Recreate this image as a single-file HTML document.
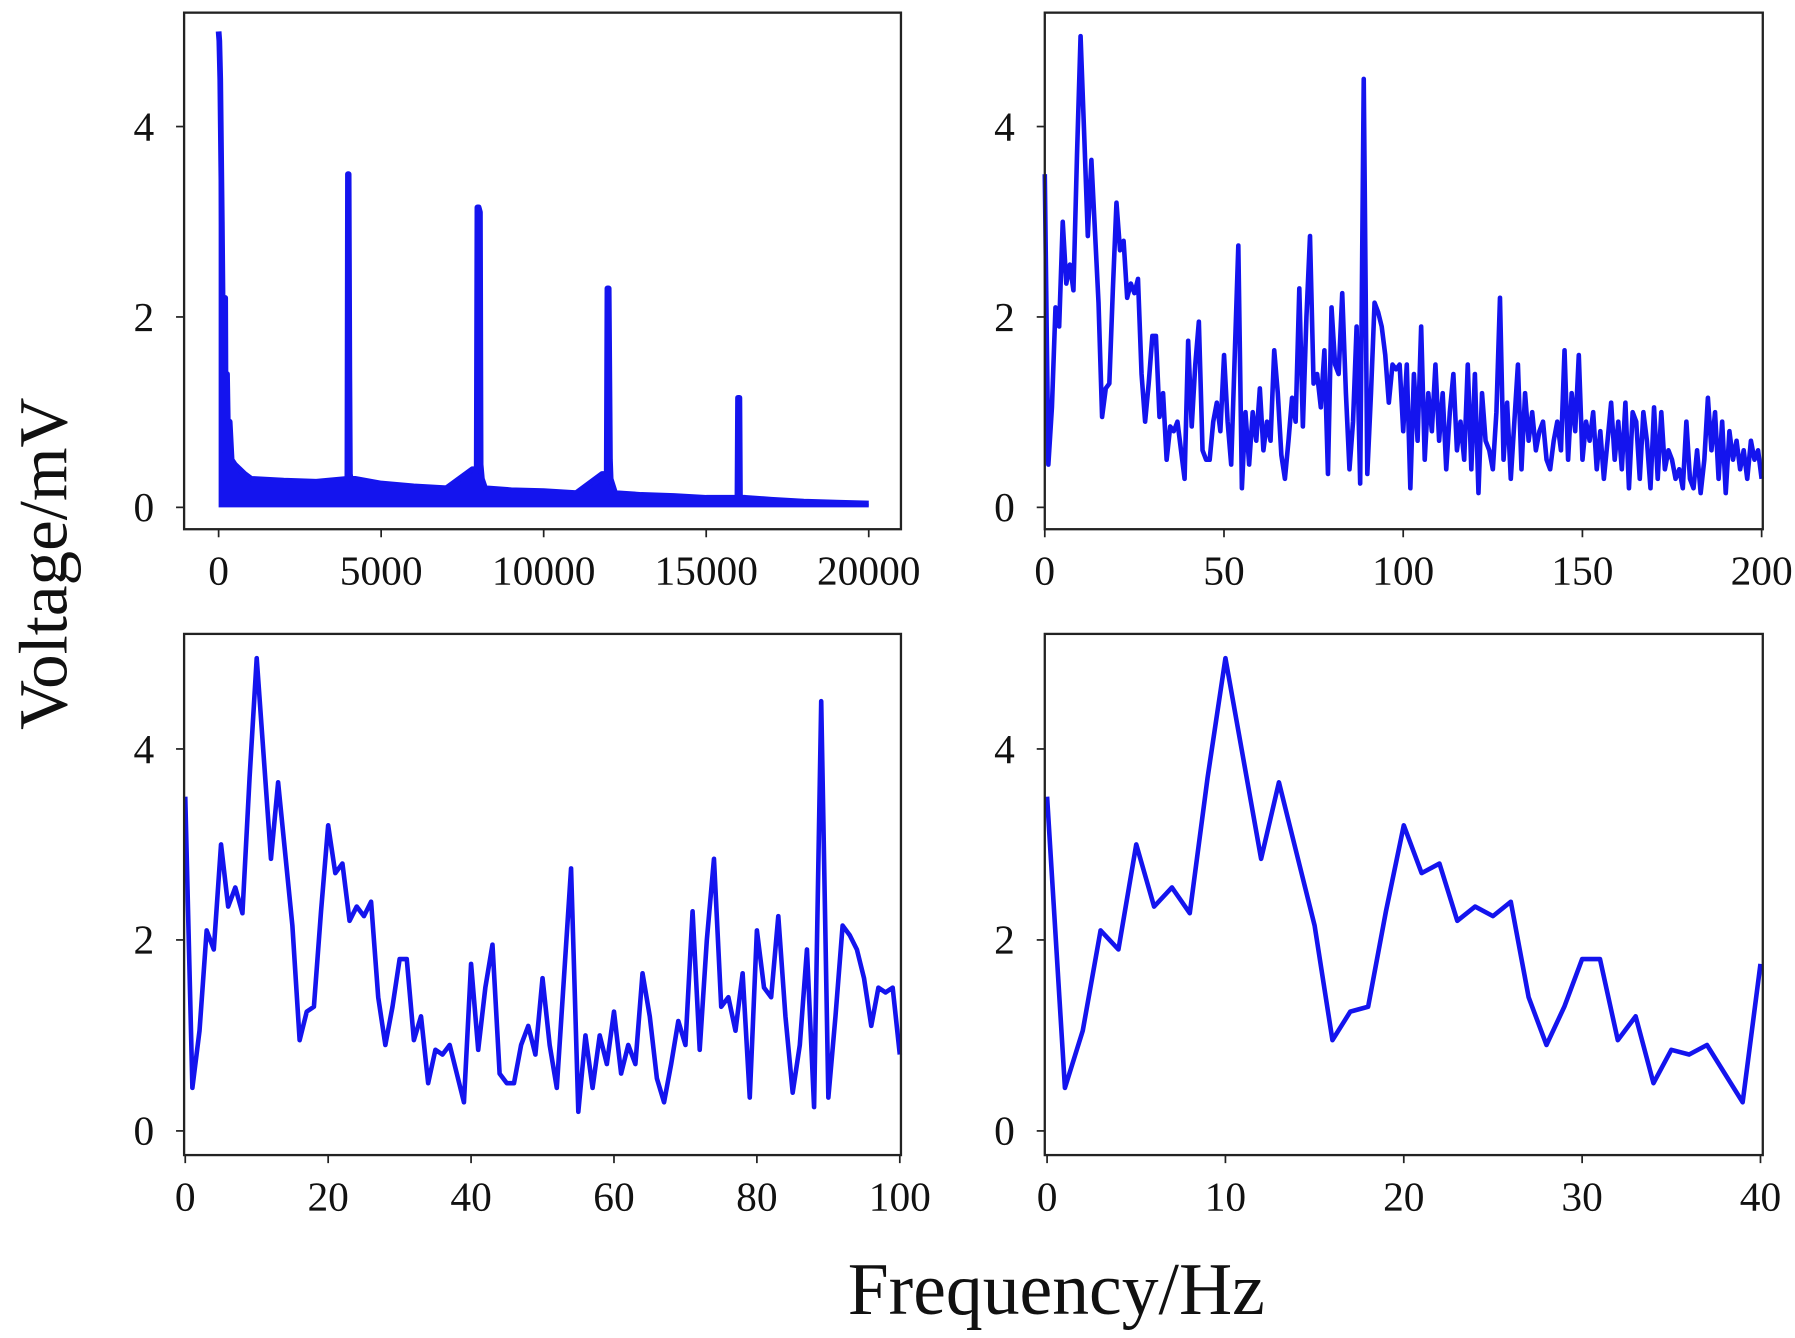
<!DOCTYPE html>
<html><head><meta charset="utf-8"><style>
html,body{margin:0;padding:0;background:#fff;}
svg{display:block;}
text{font-family:"Liberation Serif",serif;fill:#111;}
</style></head><body>
<svg id="c" width="1795" height="1338" viewBox="0 0 1560 1163" preserveAspectRatio="none" xmlns="http://www.w3.org/2000/svg">
<text x="0" y="0" transform="translate(58,490) rotate(-90)" text-anchor="middle" font-size="60">Voltage/mV</text>
<text x="918" y="1142" text-anchor="middle" font-size="64">Frequency/Hz</text>
</svg>
<script>
const yTicks=[0,2,4];
const tlTicks=[0,5000,10000,15000,20000];
const trTicks=[0,50,100,150,200];
const blTicks=[0,20,40,60,80,100];
const brTicks=[0,10,20,30,40];
const tlFreq=[0,20,50,100,150,180,200,220,260,300,340,400,500,800,1000,2000,3000,3960,3980,4000,4020,4040,4060,4200,5000,6000,7000,7800,7940,7960,8000,8040,8060,8100,8200,9000,10000,11000,11800,11940,11960,12000,12040,12060,12200,13000,14000,15000,15960,15980,16000,16020,16040,16200,17000,18000,19000,20000];
const tlVals=[5.0,4.9,4.5,3.0,1.2,0.6,2.2,0.6,1.4,0.5,0.9,0.5,0.45,0.35,0.3,0.28,0.27,0.3,3.5,3.5,1.45,0.35,0.3,0.3,0.25,0.22,0.2,0.4,0.4,3.15,3.15,3.1,0.45,0.3,0.2,0.18,0.17,0.15,0.35,0.35,2.3,2.3,0.5,0.3,0.15,0.13,0.12,0.1,0.1,1.15,1.15,1.15,0.1,0.1,0.08,0.06,0.05,0.04];
const brVals=[3.5,0.45,1.05,2.1,1.9,3.0,2.35,2.55,2.28,3.7,4.95,3.9,2.85,3.65,2.9,2.15,0.95,1.25,1.3,2.3,3.2,2.7,2.8,2.2,2.35,2.25,2.4,1.4,0.9,1.3,1.8,1.8,0.95,1.2,0.5,0.85,0.8,0.9,0.6,0.3,1.75];
const blExtra=[0.85,1.5,1.95,0.6,0.5,0.5,0.9,1.1,0.8,1.6,0.9,0.45,1.6,2.75,0.2,1.0,0.45,1.0,0.7,1.25,0.6,0.9,0.7,1.65,1.2,0.55,0.3,0.7,1.15,0.9,2.3,0.85,2.0,2.85,1.3,1.4,1.05,1.65,0.35,2.1,1.5,1.4,2.25,1.2,0.4,0.9,1.9,0.25,4.5,0.35,1.2,2.15,2.05,1.9,1.6,1.1,1.5,1.45,1.5,0.8];
const trExtra=[1.5,0.2,1.4,0.7,1.9,0.5,1.2,0.8,1.5,0.7,1.2,0.4,1.0,1.4,0.6,0.9,0.5,1.5,0.4,1.4,0.15,1.2,0.7,0.6,0.4,1.0,2.2,0.5,1.1,0.3,0.9,1.5,0.4,1.2,0.7,1.0,0.6,0.8,0.9,0.5,0.4,0.7,0.9,0.6,1.65,0.5,1.2,0.8,1.6,0.5,0.9,0.7,1.0,0.4,0.8,0.3,0.7,1.1,0.5,0.9,0.4,1.1,0.2,1.0,0.9,0.3,1.0,0.7,0.2,1.05,0.3,1.0,0.4,0.6,0.5,0.3,0.4,0.2,0.9,0.3,0.2,0.6,0.15,0.5,1.15,0.6,1.0,0.3,0.9,0.15,0.8,0.5,0.7,0.4,0.6,0.3,0.7,0.5,0.6,0.3];
const blVals=brVals.concat(blExtra);
const trVals=blVals.concat(trExtra);

const svg=document.getElementById('c');
const NS='http://www.w3.org/2000/svg';
const BLUE='#1414ee';

function panel(name,box,xd,xr,y0,yu,xs,ys,ticks,area){
  const X=v=>xr[0]+(v-xd[0])/(xd[1]-xd[0])*(xr[1]-xr[0]);
  const Y=v=>y0-v*yu;
  const g=document.createElementNS(NS,'g');svg.appendChild(g);
  
  
  let pts=xs.map((x,i)=>X(x).toFixed(1)+','+Y(ys[i]).toFixed(1)).join(' ');
  if(area){
    const poly=document.createElementNS(NS,'polygon');
    poly.setAttribute('points',X(xs[0])+','+Y(0)+' '+pts+' '+X(xs[xs.length-1])+','+Y(0));
    poly.setAttribute('fill',BLUE);
    
    
    g.appendChild(poly);
  }
  const pl=document.createElementNS(NS,'polyline');
  pl.setAttribute('points',pts);pl.setAttribute('fill','none');pl.setAttribute('stroke',BLUE);
  pl.setAttribute('stroke-width',area?5:4);pl.setAttribute('stroke-linejoin','round');
  
  
  g.appendChild(pl);
  const r=document.createElementNS(NS,'rect');
  r.setAttribute('x',box[0]);r.setAttribute('y',box[1]);r.setAttribute('width',box[2]-box[0]);r.setAttribute('height',box[3]-box[1]);
  r.setAttribute('fill','none');r.setAttribute('stroke','#222');r.setAttribute('stroke-width','2');
  
  
  g.appendChild(r);
  yTicks.forEach(t=>{
    const l=document.createElementNS(NS,'line');
    l.setAttribute('x1',box[0]-7);l.setAttribute('x2',box[0]);l.setAttribute('y1',Y(t));l.setAttribute('y2',Y(t));l.setAttribute('stroke','#222');l.setAttribute('stroke-width','1.5');
    
    
    g.appendChild(l);
    const tx=document.createElementNS(NS,'text');
    tx.setAttribute('x',box[0]-26);tx.setAttribute('y',Y(t)+12);tx.setAttribute('text-anchor','end');tx.setAttribute('font-size','36');
    tx.textContent=t;
    
    
    g.appendChild(tx);
  });
  ticks.forEach(t=>{
    const l=document.createElementNS(NS,'line');
    l.setAttribute('x1',X(t));l.setAttribute('x2',X(t));l.setAttribute('y1',box[3]);l.setAttribute('y2',box[3]+7);l.setAttribute('stroke','#222');l.setAttribute('stroke-width','1.5');
    
    
    g.appendChild(l);
    const tx=document.createElementNS(NS,'text');
    tx.setAttribute('x',X(t));tx.setAttribute('y',box[3]+48);tx.setAttribute('text-anchor','middle');tx.setAttribute('font-size','36');
    tx.textContent=t;
    
    
    g.appendChild(tx);
  });
}
const idx=n=>Array.from({length:n},(_,i)=>i);
panel('panel-full-spectrum',[160,11,783,460],[0,20000],[190,755],441,82.75,tlFreq,tlVals,tlTicks,true);
panel('panel-0-200hz',[908,11,1532,460],[0,200],[908,1531],441,82.75,idx(trVals.length),trVals,trTicks,false);
panel('panel-0-100hz',[160,551,783,1004],[0,100],[161,782],983,83,idx(blVals.length),blVals,blTicks,false);
panel('panel-0-40hz',[908,551,1532,1004],[0,40],[910,1530],983,83,idx(brVals.length),brVals,brTicks,false);
</script>
</body></html>
